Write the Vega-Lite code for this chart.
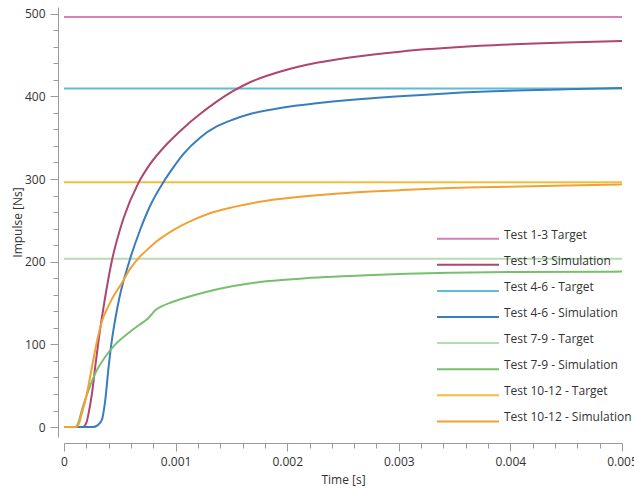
{
  "$schema": "https://vega.github.io/schema/vega-lite/v6.json",
  "width": 558,
  "height": 430,
  "autosize": {"type": "none"},
  "padding": {"left": 64, "top": 7, "right": 12, "bottom": 51},
  "background": "white",
  "config": {"view": {"stroke": null}, "font": "Open Sans"},
  "datasets": {
    "d": [
      {"s": "Test 1-3 Target", "t": 0, "v": 496},
      {"s": "Test 1-3 Target", "t": 0.005, "v": 496},
      {"s": "Test 4-6 - Target", "t": 0, "v": 409.5},
      {"s": "Test 4-6 - Target", "t": 0.005, "v": 409.5},
      {"s": "Test 7-9 - Target", "t": 0, "v": 203.5},
      {"s": "Test 7-9 - Target", "t": 0.005, "v": 203.5},
      {"s": "Test 10-12 - Target", "t": 0, "v": 296.2},
      {"s": "Test 10-12 - Target", "t": 0.005, "v": 296.2},

      {"s": "Test 1-3 Simulation", "t": 0, "v": 0},
      {"s": "Test 1-3 Simulation", "t": 0.00017, "v": 0},
      {"s": "Test 1-3 Simulation", "t": 0.0002, "v": 5},
      {"s": "Test 1-3 Simulation", "t": 0.000221, "v": 17},
      {"s": "Test 1-3 Simulation", "t": 0.000251, "v": 41},
      {"s": "Test 1-3 Simulation", "t": 0.00028, "v": 73},
      {"s": "Test 1-3 Simulation", "t": 0.000311, "v": 106},
      {"s": "Test 1-3 Simulation", "t": 0.00034, "v": 133},
      {"s": "Test 1-3 Simulation", "t": 0.000365, "v": 154},
      {"s": "Test 1-3 Simulation", "t": 0.000427, "v": 200},
      {"s": "Test 1-3 Simulation", "t": 0.000502, "v": 239},
      {"s": "Test 1-3 Simulation", "t": 0.000532, "v": 252},
      {"s": "Test 1-3 Simulation", "t": 0.000666, "v": 295},
      {"s": "Test 1-3 Simulation", "t": 0.000771, "v": 318},
      {"s": "Test 1-3 Simulation", "t": 0.00092, "v": 342},
      {"s": "Test 1-3 Simulation", "t": 0.001069, "v": 361.5},
      {"s": "Test 1-3 Simulation", "t": 0.001219, "v": 378.5},
      {"s": "Test 1-3 Simulation", "t": 0.001368, "v": 393.5},
      {"s": "Test 1-3 Simulation", "t": 0.001517, "v": 406.5},
      {"s": "Test 1-3 Simulation", "t": 0.001667, "v": 417},
      {"s": "Test 1-3 Simulation", "t": 0.001965, "v": 431},
      {"s": "Test 1-3 Simulation", "t": 0.002264, "v": 440.5},
      {"s": "Test 1-3 Simulation", "t": 0.00256, "v": 447},
      {"s": "Test 1-3 Simulation", "t": 0.00301, "v": 454},
      {"s": "Test 1-3 Simulation", "t": 0.003728, "v": 461},
      {"s": "Test 1-3 Simulation", "t": 0.0045, "v": 465.2},
      {"s": "Test 1-3 Simulation", "t": 0.005, "v": 467},

      {"s": "Test 4-6 - Simulation", "t": 0, "v": 0},
      {"s": "Test 4-6 - Simulation", "t": 0.00026, "v": 0},
      {"s": "Test 4-6 - Simulation", "t": 0.0003, "v": 2},
      {"s": "Test 4-6 - Simulation", "t": 0.00034, "v": 9},
      {"s": "Test 4-6 - Simulation", "t": 0.00037, "v": 33},
      {"s": "Test 4-6 - Simulation", "t": 0.0004, "v": 73},
      {"s": "Test 4-6 - Simulation", "t": 0.00043, "v": 106},
      {"s": "Test 4-6 - Simulation", "t": 0.00046, "v": 131},
      {"s": "Test 4-6 - Simulation", "t": 0.000496, "v": 156},
      {"s": "Test 4-6 - Simulation", "t": 0.00053, "v": 175},
      {"s": "Test 4-6 - Simulation", "t": 0.000562, "v": 190},
      {"s": "Test 4-6 - Simulation", "t": 0.000591, "v": 203},
      {"s": "Test 4-6 - Simulation", "t": 0.000681, "v": 238},
      {"s": "Test 4-6 - Simulation", "t": 0.00077, "v": 267},
      {"s": "Test 4-6 - Simulation", "t": 0.00089, "v": 296},
      {"s": "Test 4-6 - Simulation", "t": 0.00098, "v": 314},
      {"s": "Test 4-6 - Simulation", "t": 0.001069, "v": 330},
      {"s": "Test 4-6 - Simulation", "t": 0.001219, "v": 350},
      {"s": "Test 4-6 - Simulation", "t": 0.001368, "v": 363.5},
      {"s": "Test 4-6 - Simulation", "t": 0.001517, "v": 372},
      {"s": "Test 4-6 - Simulation", "t": 0.001667, "v": 378.5},
      {"s": "Test 4-6 - Simulation", "t": 0.001965, "v": 386.5},
      {"s": "Test 4-6 - Simulation", "t": 0.002264, "v": 391.5},
      {"s": "Test 4-6 - Simulation", "t": 0.00256, "v": 395.5},
      {"s": "Test 4-6 - Simulation", "t": 0.00301, "v": 400},
      {"s": "Test 4-6 - Simulation", "t": 0.003728, "v": 405.5},
      {"s": "Test 4-6 - Simulation", "t": 0.0045, "v": 408.5},
      {"s": "Test 4-6 - Simulation", "t": 0.005, "v": 410},

      {"s": "Test 7-9 - Simulation", "t": 0, "v": 0},
      {"s": "Test 7-9 - Simulation", "t": 0.0001, "v": 0},
      {"s": "Test 7-9 - Simulation", "t": 0.00013, "v": 6},
      {"s": "Test 7-9 - Simulation", "t": 0.000161, "v": 21},
      {"s": "Test 7-9 - Simulation", "t": 0.000221, "v": 45},
      {"s": "Test 7-9 - Simulation", "t": 0.00028, "v": 65},
      {"s": "Test 7-9 - Simulation", "t": 0.00037, "v": 85},
      {"s": "Test 7-9 - Simulation", "t": 0.00046, "v": 100},
      {"s": "Test 7-9 - Simulation", "t": 0.00058, "v": 114},
      {"s": "Test 7-9 - Simulation", "t": 0.000699, "v": 126},
      {"s": "Test 7-9 - Simulation", "t": 0.00075, "v": 131},
      {"s": "Test 7-9 - Simulation", "t": 0.000789, "v": 137},
      {"s": "Test 7-9 - Simulation", "t": 0.000815, "v": 141},
      {"s": "Test 7-9 - Simulation", "t": 0.000875, "v": 146},
      {"s": "Test 7-9 - Simulation", "t": 0.000965, "v": 151},
      {"s": "Test 7-9 - Simulation", "t": 0.00108, "v": 156},
      {"s": "Test 7-9 - Simulation", "t": 0.001263, "v": 163},
      {"s": "Test 7-9 - Simulation", "t": 0.001517, "v": 170.5},
      {"s": "Test 7-9 - Simulation", "t": 0.001756, "v": 175.5},
      {"s": "Test 7-9 - Simulation", "t": 0.002115, "v": 179.5},
      {"s": "Test 7-9 - Simulation", "t": 0.002712, "v": 183.5},
      {"s": "Test 7-9 - Simulation", "t": 0.003459, "v": 186.5},
      {"s": "Test 7-9 - Simulation", "t": 0.004, "v": 187.5},
      {"s": "Test 7-9 - Simulation", "t": 0.005, "v": 188},

      {"s": "Test 10-12 - Simulation", "t": 0, "v": 0},
      {"s": "Test 10-12 - Simulation", "t": 0.00011, "v": 0},
      {"s": "Test 10-12 - Simulation", "t": 0.00013, "v": 3},
      {"s": "Test 10-12 - Simulation", "t": 0.000161, "v": 17},
      {"s": "Test 10-12 - Simulation", "t": 0.000206, "v": 41},
      {"s": "Test 10-12 - Simulation", "t": 0.000251, "v": 73},
      {"s": "Test 10-12 - Simulation", "t": 0.000296, "v": 104},
      {"s": "Test 10-12 - Simulation", "t": 0.00034, "v": 128},
      {"s": "Test 10-12 - Simulation", "t": 0.000397, "v": 146},
      {"s": "Test 10-12 - Simulation", "t": 0.00043, "v": 155},
      {"s": "Test 10-12 - Simulation", "t": 0.000517, "v": 174},
      {"s": "Test 10-12 - Simulation", "t": 0.000591, "v": 191},
      {"s": "Test 10-12 - Simulation", "t": 0.000666, "v": 204},
      {"s": "Test 10-12 - Simulation", "t": 0.000741, "v": 214},
      {"s": "Test 10-12 - Simulation", "t": 0.000815, "v": 223},
      {"s": "Test 10-12 - Simulation", "t": 0.000965, "v": 237},
      {"s": "Test 10-12 - Simulation", "t": 0.001159, "v": 250.5},
      {"s": "Test 10-12 - Simulation", "t": 0.001308, "v": 258.5},
      {"s": "Test 10-12 - Simulation", "t": 0.001517, "v": 266},
      {"s": "Test 10-12 - Simulation", "t": 0.001756, "v": 272.5},
      {"s": "Test 10-12 - Simulation", "t": 0.002115, "v": 278.5},
      {"s": "Test 10-12 - Simulation", "t": 0.00256, "v": 283.5},
      {"s": "Test 10-12 - Simulation", "t": 0.00301, "v": 286.5},
      {"s": "Test 10-12 - Simulation", "t": 0.003459, "v": 289},
      {"s": "Test 10-12 - Simulation", "t": 0.003728, "v": 290},
      {"s": "Test 10-12 - Simulation", "t": 0.0045, "v": 292},
      {"s": "Test 10-12 - Simulation", "t": 0.005, "v": 293.5}
    ]
  },
  "data": {"name": "d"},
  "mark": {"type": "line", "strokeWidth": 2, "interpolate": "monotone"},
  "encoding": {
    "x": {
      "field": "t",
      "type": "quantitative",
      "scale": {"domain": [0, 0.005], "nice": false, "zero": false},
      "axis": {
        "title": "Time [s]",
        "values": [0, 0.0002, 0.0004, 0.0006, 0.0008, 0.001, 0.0012, 0.0014, 0.0016, 0.0018, 0.002, 0.0022, 0.0024, 0.0026, 0.0028, 0.003, 0.0032, 0.0034, 0.0036, 0.0038, 0.004, 0.0042, 0.0044, 0.0046, 0.0048, 0.005],
        "labelExpr": "abs(datum.value * 1000 - round(datum.value * 1000)) < 1e-6 ? format(datum.value, '~g') : ''",
        "tickSize": {"condition": {"test": "abs(datum.value * 1000 - round(datum.value * 1000)) < 1e-6", "value": 8}, "value": 5},
        "offset": 6,
        "grid": false,
        "domainColor": "#9a9a9a",
        "tickColor": "#9a9a9a",
        "labelColor": "#333333",
        "labelFontSize": 12,
        "labelPadding": 5,
        "labelFlush": false,
        "labelOverlap": false,
        "titleFontSize": 12,
        "titleFontWeight": "normal",
        "titleColor": "#333333",
        "titlePadding": 7
      }
    },
    "y": {
      "field": "v",
      "type": "quantitative",
      "scale": {"domain": [-12, 508], "nice": false, "zero": false},
      "axis": {
        "title": "Impulse [Ns]",
        "values": [0, 20, 40, 60, 80, 100, 120, 140, 160, 180, 200, 220, 240, 260, 280, 300, 320, 340, 360, 380, 400, 420, 440, 460, 480, 500],
        "labelExpr": "datum.value % 100 === 0 ? datum.label : ''",
        "tickSize": {"condition": {"test": "datum.value % 100 === 0", "value": 8}, "value": 5},
        "offset": 6,
        "grid": false,
        "domainColor": "#9a9a9a",
        "tickColor": "#9a9a9a",
        "labelColor": "#333333",
        "labelFontSize": 12,
        "labelPadding": 5,
        "labelOverlap": false,
        "titleFontSize": 12,
        "titleFontWeight": "normal",
        "titleColor": "#333333",
        "titlePadding": 0
      }
    },
    "color": {
      "field": "s",
      "type": "nominal",
      "scale": {
        "domain": ["Test 1-3 Target", "Test 1-3 Simulation", "Test 4-6 - Target", "Test 4-6 - Simulation", "Test 7-9 - Target", "Test 7-9 - Simulation", "Test 10-12 - Target", "Test 10-12 - Simulation"],
        "range": ["#d67fb8", "#ad4670", "#5dbcd6", "#3a7dbd", "#b5dbb1", "#77bf6f", "#f6bd3c", "#f3a032"]
      },
      "legend": {
        "orient": "none",
        "legendX": 367,
        "legendY": 225.7,
        "title": null,
        "symbolType": "M0,0H62",
        "symbolSize": 4,
        "symbolStrokeWidth": 2,
        "labelOffset": 61,
        "rowPadding": 12.1,
        "labelFontSize": 12,
        "labelColor": "#333333",
        "labelBaseline": "alphabetic",
        "labelLimit": 300,
        "padding": 0
      }
    }
  }
}
